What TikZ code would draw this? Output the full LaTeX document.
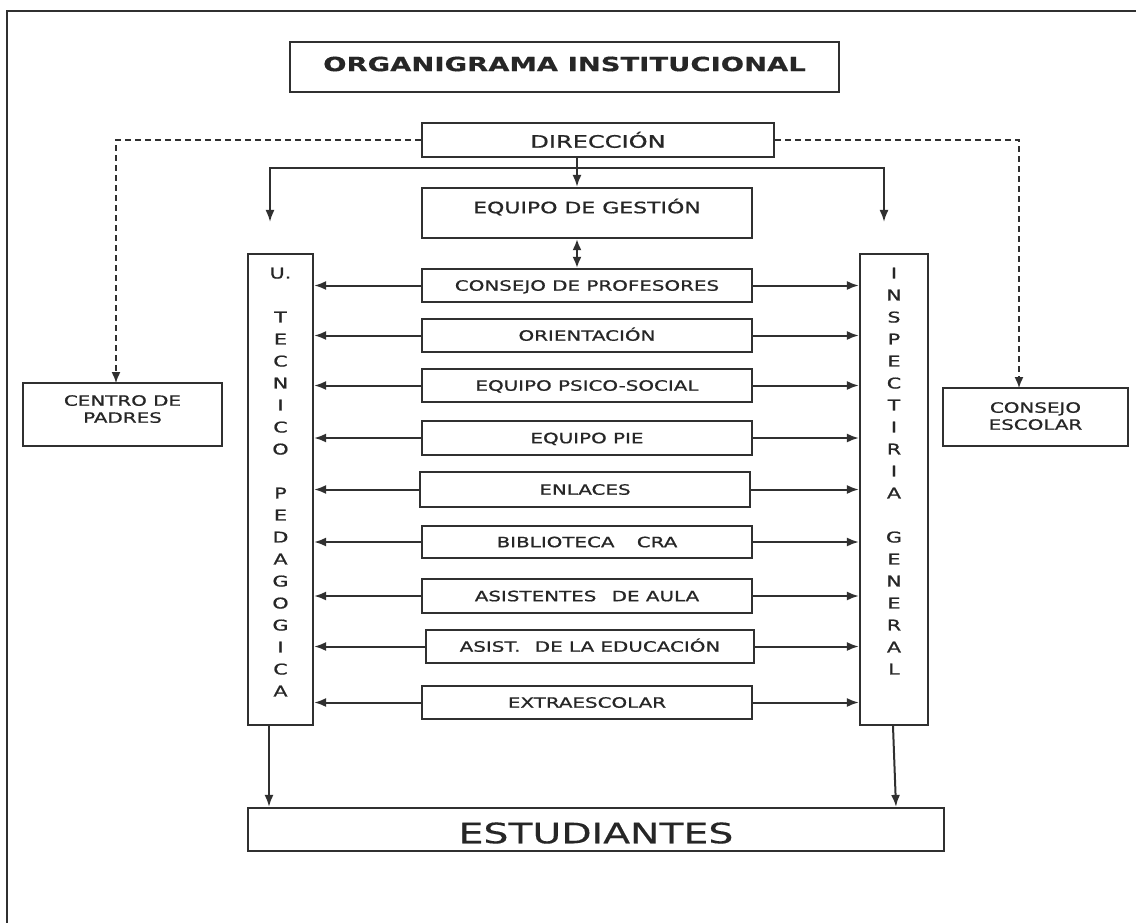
\documentclass[tikz,border=0pt]{standalone}
\usepackage{fontspec}
\usetikzlibrary{arrows.meta}
\newfontfamily\dv[FakeStretch=1.4,FakeBold=0.8]{DejaVu Sans}
\newfontfamily\dvl[FakeStretch=1.4,FakeBold=0.4]{DejaVu Sans}
\definecolor{ln}{HTML}{303030}
\definecolor{tx}{HTML}{262626}
\tikzset{
  box/.style={draw=ln,line width=2.2pt,inner sep=0pt,rectangle},
  lbl/.style={text=tx,inner sep=0pt,font=\dv\fontsize{14.2pt}{17pt}\selectfont,text height=10.4pt,text depth=0pt},
  mlbl/.style={text=tx,inner sep=0pt,align=center,anchor=north},
  arr/.style={draw=ln,line width=2pt,-{Latex[length=12pt,width=9pt]}},
  dbl/.style={draw=ln,line width=2pt,{Latex[length=11pt,width=9pt]}-{Latex[length=11pt,width=9pt]}},
  dsh/.style={draw=ln,line width=1.5pt,dash pattern=on 6pt off 4pt,-{Latex[length=11pt,width=9pt]}},
}
\begin{document}
\begin{tikzpicture}[x=1pt,y=-1pt]
\useasboundingbox (0,0) rectangle (1136,923);
\fill[white] (0,0) rectangle (1136,923);
% outer frame
\draw[ln,line width=2.5pt] (7,923) -- (7,11) -- (1136,11);

% title
\node[box,minimum width=549pt,minimum height=50pt] (title) at (564.5,67) {};
\node[text=tx,inner sep=0pt,font=\dvl\bfseries\fontsize{19.6pt}{22pt}\selectfont,text height=14.3pt,text depth=0pt] (titlet) at (564.5,64) {ORGANIGRAMA INSTITUCIONAL};

% direccion
\node[box,minimum width=352pt,minimum height=34pt] (dir) at (598,140) {};
\node[lbl,font=\dv\fontsize{17.2pt}{20pt}\selectfont,text height=12.5pt] (dirt) at (598,141.5) {DIRECCIÓN};

% equipo de gestion
\node[box,minimum width=330pt,minimum height=50pt] (edg) at (587,213) {};
\node[lbl,font=\dv\fontsize{15.7pt}{19pt}\selectfont,text height=11.5pt] (edgt) at (587,207.5) {EQUIPO DE GESTIÓN};

% side columns
\node[box,minimum width=65pt,minimum height=471pt] (utp) at (280.5,489.5) {};
\node[mlbl,font=\dv\fontsize{14.8pt}{22pt}\selectfont] (utpt) at (280.5,267.5) {U.\\ \mbox{}\\ T\\ E\\ C\\ N\\ I\\ C\\ O\\ \mbox{}\\ P\\ E\\ D\\ A\\ G\\ O\\ G\\ I\\ C\\ A};
\node[box,minimum width=68pt,minimum height=471pt] (insp) at (894,489.5) {};
\node[mlbl,font=\dv\fontsize{14.8pt}{22pt}\selectfont] (inspt) at (894,267.5) {I\\ N\\ S\\ P\\ E\\ C\\ T\\ I\\ R\\ I\\ A\\ \mbox{}\\ G\\ E\\ N\\ E\\ R\\ A\\ L};

% middle boxes
\node[box,lbl,minimum width=330pt,minimum height=33pt] (b1) at (587,285.5) {CONSEJO DE PROFESORES\hspace{24pt}};
\node[box,lbl,minimum width=330pt,minimum height=33pt] (b2) at (587,335.5) {ORIENTACIÓN};
\node[box,lbl,minimum width=330pt,minimum height=33pt] (b3) at (587,385.5) {EQUIPO PSICO-SOCIAL};
\node[box,lbl,minimum width=330pt,minimum height=34pt] (b4) at (587,438) {EQUIPO PIE};
\node[box,lbl,minimum width=330pt,minimum height=35pt] (b5) at (585,489.5) {ENLACES};
\node[box,lbl,minimum width=330pt,minimum height=32pt] (b6) at (587,542) {BIBLIOTECA\hspace{16pt} CRA};
\node[box,lbl,minimum width=330pt,minimum height=34pt] (b7) at (587,596) {ASISTENTES\hspace{9pt} DE AULA};
\node[box,lbl,minimum width=328pt,minimum height=33pt] (b8) at (590,646.5) {ASIST.\hspace{8pt} DE LA EDUCACIÓN};
\node[box,lbl,minimum width=330pt,minimum height=33pt] (b9) at (587,702.5) {EXTRAESCOLAR};

% side boxes
\node[box,minimum width=199pt,minimum height=63pt] (cpad) at (122.5,414.5) {};
\node[mlbl,font=\dv\fontsize{14.2pt}{17pt}\selectfont] (cpadt) at (122.5,395) {CENTRO DE\\ PADRES};
\node[box,minimum width=185pt,minimum height=58pt] (cesc) at (1035.5,417) {};
\node[mlbl,font=\dv\fontsize{14.2pt}{17pt}\selectfont] (cesct) at (1035.5,402) {CONSEJO\\ ESCOLAR};

% estudiantes
\node[box,minimum width=696pt,minimum height=43pt] (est) at (596,829.5) {};
\node[lbl,font=\dvl\fontsize{28.1pt}{32pt}\selectfont,text height=20.5pt] (estt) at (596,833) {ESTUDIANTES};

% helper coordinates
\coordinate (ax) at (577,0);
\coordinate (brL) at (270,168);
\coordinate (brR) at (884,168);
\coordinate (tipL) at (270,222);
\coordinate (tipR) at (884,222);
\coordinate (cpa) at (116,383);
\coordinate (cea) at (1019,388);
\coordinate (bl) at (269,0);
\coordinate (br) at (896,0);

% connectors from direccion
\draw[arr] (dir.south -| ax) -- (edg.north -| ax);
\draw[arr] (brL -| ax) -- (brL) -- (tipL);
\draw[arr] (brL -| ax) -- (brR) -- (tipR);
\draw[dbl] (edg.south -| ax) -- (b1.north -| ax);
\draw[dsh] (dir.west) -| (cpa);
\draw[dsh] (dir.east) -| (cea);

% middle arrows
\foreach \b in {b1,b2,b3,b4,b5,b6,b7,b8,b9}{
  \draw[arr] (\b.west) -- (\b.west -| utp.east);
  \draw[arr] (\b.east) -- (\b.east -| insp.west);
}

% to estudiantes
\draw[arr] (utp.south -| bl) -- (est.north -| bl);
\draw[arr] ([xshift=-1pt]insp.south) -- (est.north -| br);
\end{tikzpicture}
\end{document}
